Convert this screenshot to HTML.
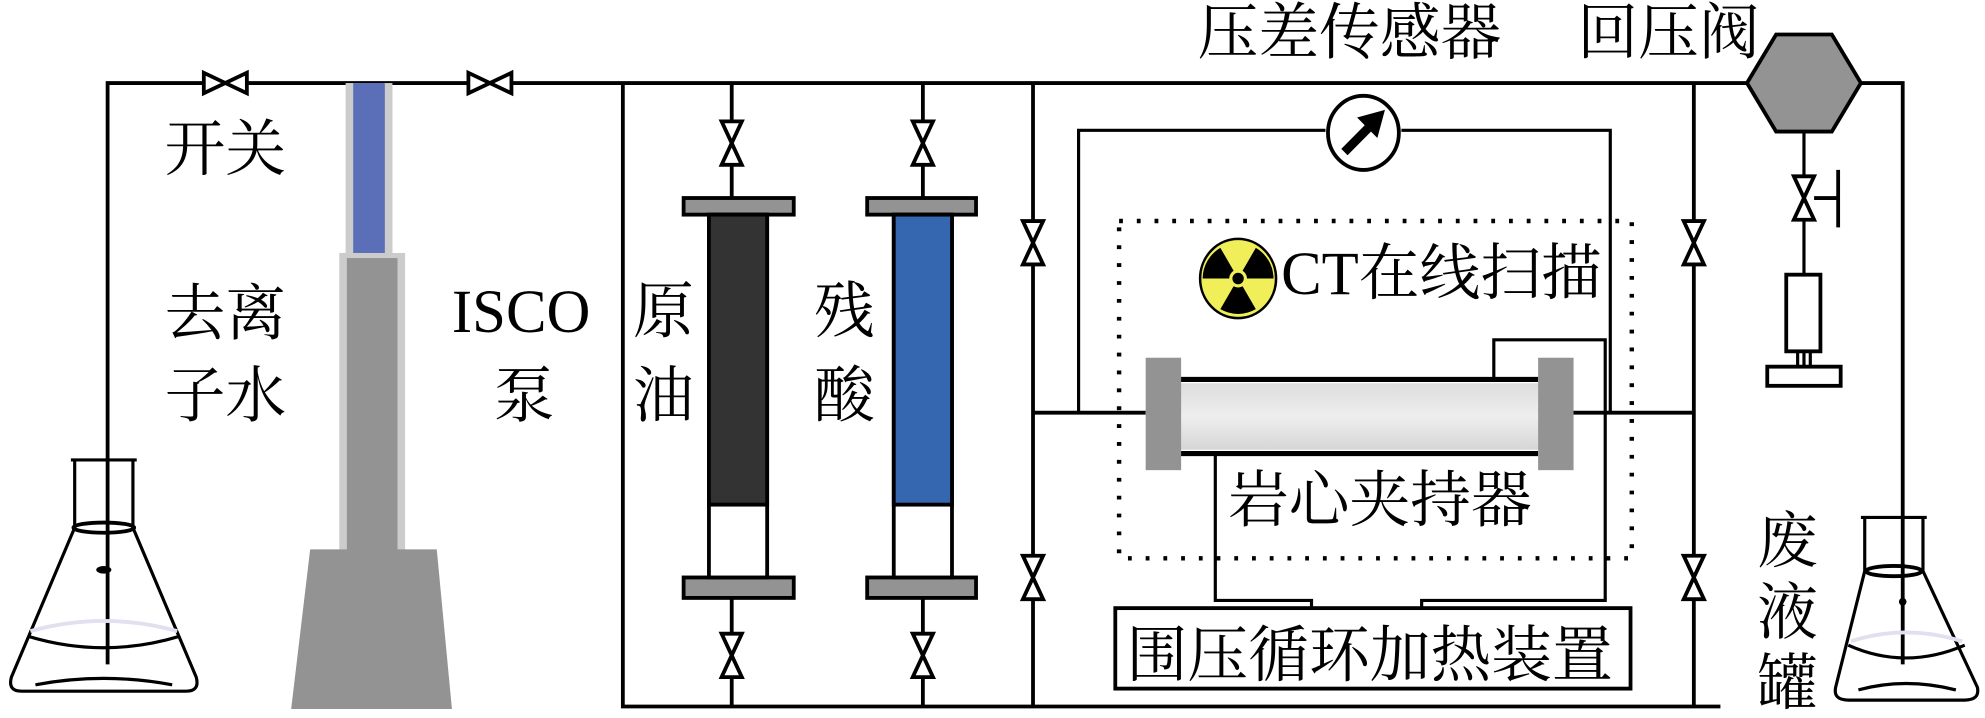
<!DOCTYPE html>
<html><head><meta charset="utf-8"><style>html,body{margin:0;padding:0;background:#fff}svg{display:block}text{font-family:"Liberation Serif","Noto Serif CJK SC","Noto Sans CJK SC",serif;fill:#000}</style></head><body>
<svg width="1985" height="718" viewBox="0 0 1568 562" preserveAspectRatio="none" xmlns="http://www.w3.org/2000/svg">
<defs>
<g id="vh"><polygon points="-17,-8 17,8 17,-8 -17,8" fill="#fff" stroke="#000" stroke-width="3"/></g>
<g id="vv"><polygon points="-8,-17 8,17 -8,17 8,-17" fill="#fff" stroke="#000" stroke-width="3"/></g>
<linearGradient id="core" x1="0" x2="0" y1="0" y2="1"><stop offset="0" stop-color="#ddd"/><stop offset=".5" stop-color="#eee"/><stop offset="1" stop-color="#d6d6d6"/></linearGradient>
</defs>
<g stroke="#000" stroke-width="3" fill="none">
<path d="M85,520 V65 H1382"/>
<path d="M1468,65 H1503 V520"/>
<path d="M492,65 V553 H1359"/>
<path d="M578,65 V155 M578,468 V553"/>
<path d="M729,65 V155 M729,468 V553"/>
<path d="M816,65 V553 M1338,65 V553"/>
<path d="M816,323 H905 M1242,323 H1338"/>
<path d="M852,323 V102 H1047 M1107,102 H1272 V323" stroke-width="2.5"/>
<path d="M1180,297 V266 H1268 V470 H1123 V478" stroke-width="2.5"/>
<path d="M960,355 V470 H1036 V478" stroke-width="2.5"/>
<path d="M1425,100 V290" stroke-width="2.5"/>
</g>
<use href="#vh" x="178" y="65"/><use href="#vh" x="387" y="65"/>
<use href="#vv" x="578" y="112"/><use href="#vv" x="729" y="112"/>
<use href="#vv" x="578" y="513"/><use href="#vv" x="729" y="513"/>
<use href="#vv" x="816" y="190"/><use href="#vv" x="816" y="452"/>
<use href="#vv" x="1338" y="190"/><use href="#vv" x="1338" y="452"/>
<use href="#vv" x="1425" y="155"/>
<path d="M1433,155 H1452 M1452,133 V178" stroke="#000" stroke-width="3"/>
<rect x="273" y="65" width="37" height="137" fill="#ccc"/>
<rect x="279" y="65" width="25" height="135" fill="#5a6fb8"/>
<rect x="268" y="198" width="52" height="235" fill="#ccc"/>
<rect x="274" y="202" width="40" height="231" fill="#939393"/>
<polygon points="245,430 345,430 357,555 230,555" fill="#939393"/>
<g stroke="#000" stroke-width="3">
<rect x="540" y="155" width="87" height="13" fill="#939393"/>
<rect x="540" y="452" width="87" height="16" fill="#939393"/>
<rect x="560" y="168" width="46" height="284" fill="#fff"/>
<rect x="560" y="168" width="46" height="227" fill="#333"/>
<rect x="685" y="155" width="86" height="13" fill="#939393"/>
<rect x="685" y="452" width="86" height="16" fill="#939393"/>
<rect x="706" y="168" width="46" height="284" fill="#fff"/>
<rect x="706" y="168" width="46" height="227" fill="#3566b0"/>
</g>
<ellipse cx="1077" cy="104" rx="28" ry="29" fill="#fff" stroke="#000" stroke-width="3"/>
<path d="M1062,119 L1084,97" stroke="#000" stroke-width="7"/>
<polygon points="1094,86 1072,92 1088,108" fill="#000"/>
<rect x="884" y="173" width="405" height="264" fill="none" stroke="#000" stroke-width="3.5" stroke-dasharray="3,11"/>
<ellipse cx="978" cy="218" rx="30" ry="31" fill="#f0ef5a" stroke="#000" stroke-width="2"/>
<g fill="#000">
<path d="M978,218 L964,194 A28,28 0 0 0 950,218 Z"/>
<path d="M978,218 L992,194 A28,28 0 0 1 1006,218 Z"/>
<path d="M978,218 L964,242 A28,28 0 0 0 992,242 Z"/>
</g>
<circle cx="978" cy="218" r="7" fill="#f0ef5a"/><circle cx="978" cy="218" r="4.5" fill="#000"/>
<text x="1012" y="230" font-size="48">CT在线扫描</text>
<rect x="932" y="300" width="283" height="52" fill="url(#core)"/>
<path d="M932,297 H1215 M932,355 H1215" stroke="#000" stroke-width="4"/>
<rect x="905" y="280" width="28" height="88" fill="#939393"/>
<rect x="1215" y="280" width="28" height="88" fill="#939393"/>
<text x="970" y="408" font-size="48">岩心夹持器</text>
<rect x="881" y="476" width="407" height="63" fill="#fff" stroke="#000" stroke-width="3"/>
<text x="890" y="529" font-size="48">围压循环加热装置</text>
<polygon points="1380,65 1403,27 1447,27 1470,65 1447,103 1403,103" fill="#939393" stroke="#000" stroke-width="3"/>
<rect x="1411" y="215" width="27" height="60" fill="#fff" stroke="#000" stroke-width="3"/>
<path d="M1420,275 V288 M1430,275 V288" stroke="#000" stroke-width="2.5"/>
<rect x="1396" y="287" width="58" height="15" fill="#fff" stroke="#000" stroke-width="3"/>
<g fill="none" stroke="#000" stroke-width="2.5">
<path d="M56,360 H108 M59,360 V413 M105,360 V413 L155,530 Q158,541 147,541 H17 Q6,541 9,530 L59,413"/>
<ellipse cx="82" cy="413" rx="24" ry="4" stroke-width="3"/>
<path d="M22,498 Q82,516 142,498"/>
<path d="M28,536 Q82,526 136,536"/>
<path d="M1470,405 H1522 M1473,405 V447 M1519,405 V447 L1562,538 Q1564,548 1552,548 H1460 Q1448,548 1450,538 L1473,447"/>
<ellipse cx="1496" cy="447" rx="22" ry="4" stroke-width="3"/>
<path d="M1460,505 Q1505,525 1552,505"/>
<path d="M1468,540 Q1505,530 1545,540"/>
</g>
<path d="M24,494 Q82,478 140,494" stroke="#e0e0f0" stroke-width="3" fill="none"/>
<path d="M1462,502 Q1505,488 1550,502" stroke="#e0e0f0" stroke-width="3" fill="none"/>
<ellipse cx="82" cy="446" rx="6" ry="3" fill="#000"/>
<circle cx="1503" cy="471" r="3" fill="#000"/>
<text x="130" y="133" font-size="48">开关</text>
<text x="130" y="262" font-size="48">去离</text>
<text x="130" y="326" font-size="48">子水</text>
<text x="357" y="260" font-size="48">ISCO</text>
<text x="390" y="326" font-size="48">泵</text>
<text x="500" y="260" font-size="48">原</text>
<text x="500" y="326" font-size="48">油</text>
<text x="643" y="260" font-size="48">残</text>
<text x="643" y="326" font-size="48">酸</text>
<text x="946" y="42" font-size="48">压差传感器</text>
<text x="1246" y="42" font-size="48">回压阀</text>
<text x="1388" y="440" font-size="48">废</text>
<text x="1388" y="496" font-size="48">液</text>
<text x="1388" y="551" font-size="48">罐</text>
</svg>
</body></html>
